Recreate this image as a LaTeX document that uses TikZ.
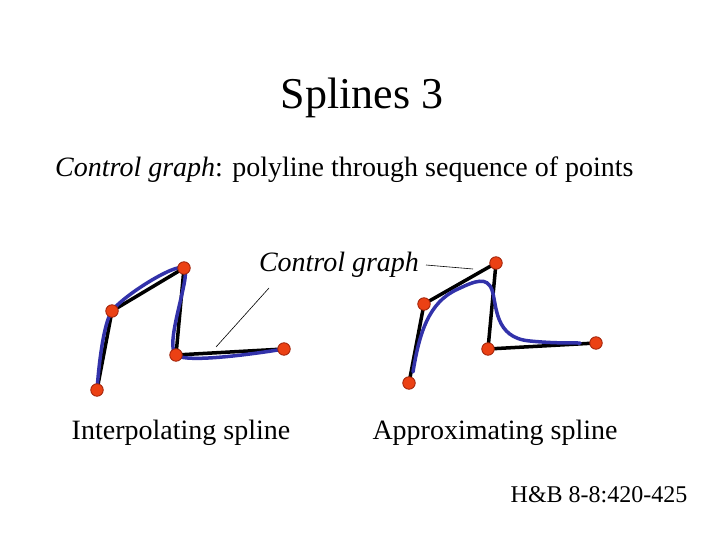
\documentclass[tikz,border=0pt]{standalone}
\usepackage{fontspec}
\setmainfont{Liberation Serif}
\definecolor{curveblue}{RGB}{50,50,170}
\definecolor{dotred}{RGB}{235,65,20}
\definecolor{dotedge}{RGB}{160,35,10}
\begin{document}
\begin{tikzpicture}[x=1pt,y=-1pt,
  ctrl/.style={circle,fill=dotred,draw=dotedge,line width=0.8pt,inner sep=0pt,minimum size=12.5pt},
  graphline/.style={line width=3.5pt,black},
  splineline/.style={line width=3.5pt,curveblue,line cap=round},
  leader/.style={line width=0.6pt,black},
  txt/.style={inner sep=0pt}]
\useasboundingbox (0,0) rectangle (720,540);
\node[txt,font=\fontsize{44}{50}\selectfont] (title) at (362,98) {Splines 3};
\node[txt,font=\fontsize{28}{33}\selectfont,anchor=west] (sub) at (55,170) {\textit{Control graph}: polyline through sequence of points};
% left: interpolating
\coordinate (p1) at (97,390);
\coordinate (p2) at (112,311);
\coordinate (p3) at (184,268);
\coordinate (p4) at (176,355);
\coordinate (p5) at (284,349);
\draw[graphline] (p1) -- (p2) -- (p3) -- (p4) -- (p5);
\draw[splineline] plot[smooth,tension=0.45] coordinates {(97,390) (112,311) (184,268) (176,355) (284,349)};
% right: approximating
\coordinate (q1) at (409,383);
\coordinate (q2) at (424,304);
\coordinate (q3) at (496,263);
\coordinate (q4) at (488,349);
\coordinate (q5) at (596,343);
\draw[graphline] (q1) -- (q2) -- (q3) -- (q4) -- (q5);
\draw[splineline] (413,372) .. controls (419,335) and (428,302) .. (458,289)
  .. controls (475,281) and (487,276) .. (492,290)
  .. controls (497,305) and (494,338) .. (530,341)
  .. controls (550,343) and (565,343) .. (580,343);
\foreach \p in {p1,p2,p3,p4,p5,q1,q2,q3,q4,q5} \node[ctrl] (n\p) at (\p) {};
% labels
\node[txt,font=\fontsize{28}{33}\selectfont\itshape] (cg) at (339,265) {Control graph};
\coordinate (la) at (269,288);
\coordinate (lb) at (216,347);
\draw[leader] (la) -- (lb);
\coordinate (ra) at (426,265);
\coordinate (rb) at (473,269);
\draw[leader] (ra) -- (rb);
\node[txt,font=\fontsize{28}{33}\selectfont] (interp) at (181,433) {Interpolating spline};
\node[txt,font=\fontsize{28}{33}\selectfont] (approx) at (495,433) {Approximating spline};
\node[txt,font=\fontsize{24}{29}\selectfont] (ref) at (599,495) {H\&B 8-8:420-425};
\end{tikzpicture}
\end{document}
